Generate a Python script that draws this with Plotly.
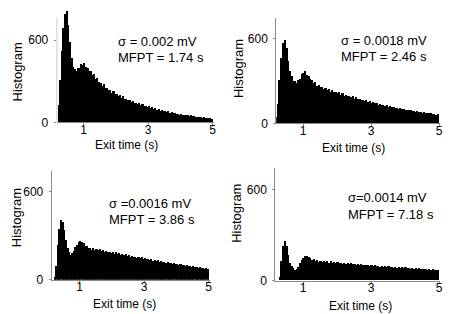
import plotly.graph_objects as go

# ---------------- data ----------------
BIN_START = 0.20
BIN_WIDTH = 0.05
X_TICKS = [1, 3, 5]
Y_TICKS = [0, 600]
X_TITLE = "Exit time (s)"
Y_TITLE = "Histogram"

sigma_labels = ["σ = 0.002 mV", "σ = 0.0018 mV", "σ =0.0016 mV", "σ=0.0014 mV"]
mfpt_labels = ["MFPT = 1.74 s", "MFPT = 2.46 s", "MFPT = 3.86 s", "MFPT = 7.18 s"]

counts_a = [130, 310, 520, 690, 790, 815, 715, 590, 470, 405, 388, 372, 395, 398, 425, 418,
            432, 402, 398, 372, 378, 345, 352, 318, 322, 296, 290, 268, 279, 250, 252, 236,
            238, 214, 226, 205, 208, 196, 200, 180, 190, 170, 174, 162, 166, 148, 158, 142,
            145, 136, 140, 124, 134, 120, 123, 114, 119, 104, 112, 99, 102, 94, 98, 85,
            92, 81, 84, 77, 80, 70, 76, 66, 68, 63, 65, 57, 62, 54, 56, 51, 53, 46,
            51, 44, 45, 42, 43, 37, 41, 35, 36, 34, 35, 29, 32, 28]
counts_b = [45, 140, 310, 460, 570, 590, 535, 445, 372, 335, 302, 298, 288, 305, 318, 348,
            356, 368, 345, 338, 312, 305, 286, 292, 266, 274, 255, 258, 243, 254, 236, 241,
            226, 238, 222, 224, 214, 222, 204, 213, 198, 203, 194, 195, 186, 192, 176, 185,
            172, 175, 168, 169, 160, 165, 150, 159, 146, 150, 142, 143, 134, 140, 130, 132,
            125, 128, 118, 124, 115, 117, 111, 113, 106, 110, 100, 105, 97, 99, 94, 95,
            88, 92, 85, 86, 81, 84, 77, 81, 74, 75, 72, 72, 67, 70, 62, 65]
counts_c = [15, 95, 235, 345, 405, 392, 338, 268, 214, 186, 170, 178, 192, 222, 238, 256,
            264, 255, 246, 232, 226, 214, 218, 204, 213, 202, 207, 198, 206, 193, 201, 190,
            195, 187, 191, 181, 189, 177, 185, 174, 178, 170, 174, 165, 171, 160, 167, 157,
            161, 154, 157, 150, 153, 145, 151, 140, 147, 137, 141, 134, 137, 129, 135, 124,
            131, 121, 125, 119, 121, 114, 120, 110, 116, 107, 111, 105, 107, 102, 104, 97,
            102, 93, 99, 90, 93, 88, 90, 85, 87, 81, 85, 77, 82, 74, 77, 72]
counts_d = [0, 0, 25, 125, 225, 262, 228, 168, 118, 96, 80, 70, 74, 88, 112, 138,
            148, 160, 164, 156, 148, 136, 139, 127, 135, 123, 131, 121, 129, 119, 125, 118,
            125, 115, 123, 114, 120, 113, 118, 110, 118, 107, 116, 106, 112, 106, 110, 102,
            110, 100, 108, 99, 104, 99, 103, 95, 103, 93, 101, 94, 97, 92, 96, 89,
            96, 87, 95, 88, 91, 84, 92, 84, 88, 83, 87, 80, 87, 80, 84, 78,
            84, 76, 83, 75, 79, 75, 77, 73, 78, 70, 76, 69, 73, 68, 71, 66]

all_counts = [counts_a, counts_b, counts_c, counts_d]

# ---------------- layout helpers (pixel boxes) ----------------
W, H = 454, 314
# (left px, right px, top px, bottom px, x range, y max, axis-line top value)
panels = [
    (49, 207, 0, 117, [0.169, 5.03], 836, 764),
    (270, 435, 10, 118, [0.212, 5.03], 745, None),
    (44, 203, 167, 278, [0.138, 5.03], 740, None),
    (269, 435, 164, 279, [0.18, 5.03], 742, None),
]
ann_pos = [  # sigma text left px, sigma y px, mfpt y px
    (109, 34, 51), (333, 33, 50), (100, 200, 216), (340, 194, 211)]
xtitle_pos = [(119, 140), (348, 143), (117, 303), (355, 305)]
ytitle_pos = [(10, 65), (232, 62), (8, 214), (230, 210)]

FONT = "Liberation Sans, Arial, sans-serif"
AXIS_GRAY = "#8a8a8a"

fig = go.Figure()
annotations = []
shapes = []

for i, counts in enumerate(all_counts):
    centers = [round(BIN_START + BIN_WIDTH * (k + 0.5), 4) for k in range(len(counts))]
    xa = "x" if i == 0 else f"x{i+1}"
    ya = "y" if i == 0 else f"y{i+1}"
    fig.add_trace(go.Bar(x=centers, y=counts, width=BIN_WIDTH,
                         marker=dict(color="black", line=dict(width=0)),
                         xaxis=xa, yaxis=ya, showlegend=False, hoverinfo="skip"))
    l, r, t, b, xr, ymax, linetop = panels[i]
    key = "" if i == 0 else str(i + 1)
    fig.layout["xaxis" + key] = dict(
        domain=[l / W, r / W], range=xr, anchor=ya, tickvals=X_TICKS,
        showline=True, linecolor=AXIS_GRAY, linewidth=1, ticks="outside",
        ticklen=2, tickcolor=AXIS_GRAY, showgrid=False, zeroline=False,
        ticklabelstandoff=-6,
        tickfont=dict(family=FONT, size=12, color="black"))
    fig.layout["yaxis" + key] = dict(
        domain=[1 - b / H, 1 - t / H], range=[0, ymax], anchor=xa, tickvals=Y_TICKS,
        showline=linetop is None, linecolor=AXIS_GRAY, linewidth=1, ticks="outside",
        ticklen=2, tickcolor=AXIS_GRAY, showgrid=False, zeroline=False,
        ticklabelstandoff=3,
        tickfont=dict(family=FONT, size=12, color="black"))
    if linetop is not None:
        shapes.append(dict(type="line", xref=xa, yref=ya, x0=xr[0], x1=xr[0], y0=0, y1=linetop,
                           line=dict(color=AXIS_GRAY, width=1)))
    sx, sy, my = ann_pos[i]
    annotations.append(dict(text=sigma_labels[i], x=sx / W, y=1 - sy / H, xref="paper", yref="paper",
                            xanchor="left", yanchor="middle", showarrow=False,
                            font=dict(family=FONT, size=13, color="black")))
    annotations.append(dict(text=mfpt_labels[i], x=sx / W, y=1 - my / H, xref="paper", yref="paper",
                            xanchor="left", yanchor="middle", showarrow=False,
                            font=dict(family=FONT, size=13, color="black")))
    tx, ty = xtitle_pos[i]
    annotations.append(dict(text=X_TITLE, x=tx / W, y=1 - ty / H, xref="paper", yref="paper",
                            xanchor="center", yanchor="middle", showarrow=False,
                            font=dict(family=FONT, size=12, color="black")))
    hx, hy = ytitle_pos[i]
    annotations.append(dict(text=Y_TITLE, x=hx / W, y=1 - hy / H, xref="paper", yref="paper",
                            xanchor="center", yanchor="middle", showarrow=False, textangle=-90,
                            font=dict(family=FONT, size=13, color="black")))

fig.update_layout(width=W, height=H, margin=dict(l=0, r=0, t=0, b=0),
                  paper_bgcolor="white", plot_bgcolor="white", bargap=0,
                  annotations=annotations, shapes=shapes)

fig.write_html("out.html")
